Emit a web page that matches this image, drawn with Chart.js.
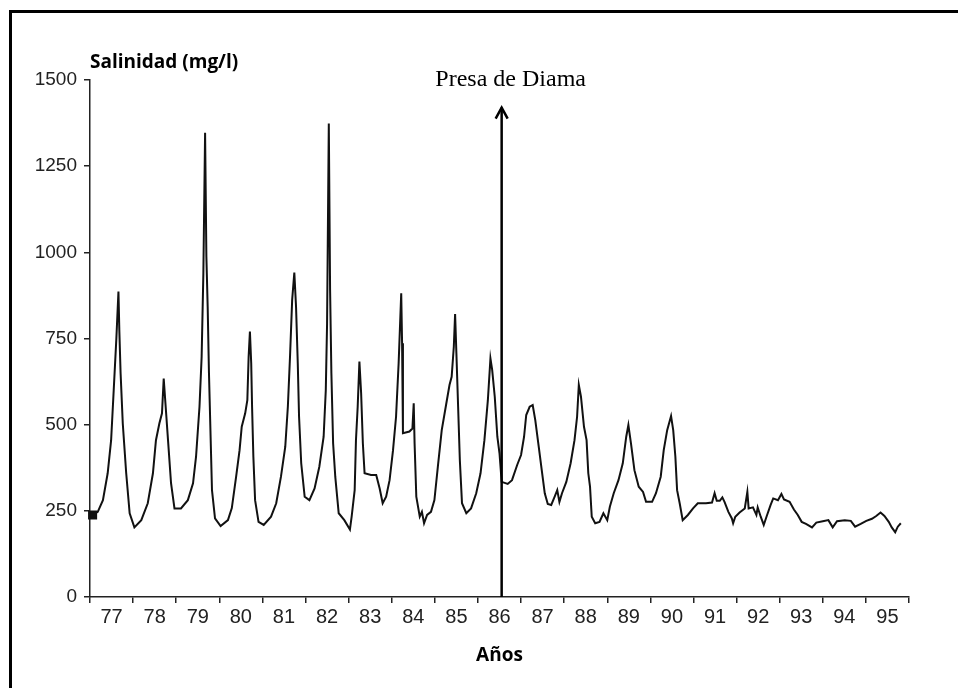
<!DOCTYPE html>
<html>
<head>
<meta charset="utf-8">
<script src="https://cdn.jsdelivr.net/npm/chart.js@4/dist/chart.umd.min.js"></script>
<style>
  html, body { margin: 0; padding: 0; background: #fff; }
  #wrap { position: relative; width: 958px; height: 688px; }
  #frame { position: absolute; left: 9px; top: 10px; right: 0; bottom: 0;
           border-left: 3px solid #000; border-top: 3px solid #000; pointer-events: none; }
</style>
</head>
<body>
<div id="wrap">
  <canvas id="salChart" width="958" height="688"></canvas>
  <div id="frame"></div>
</div>
<script>
// Salinidad en Diama (mg/l)
const years = [
  76.56, 76.68, 76.80, 76.91, 76.99, 77.05, 77.11, 77.16, 77.18, 77.21, 77.26, 77.34, 77.42, 77.53, 77.69, 77.84, 77.96,
  78.03, 78.11, 78.17, 78.21, 78.25, 78.31, 78.38, 78.46, 78.61, 78.77, 78.89, 78.96,
  79.04, 79.09, 79.13, 79.17, 79.20, 79.23, 79.26, 79.30, 79.33, 79.40, 79.53, 79.70, 79.79, 79.89, 79.97,
  80.02, 80.10, 80.15, 80.18, 80.21, 80.24, 80.26, 80.29, 80.33, 80.41, 80.53, 80.70, 80.82, 80.93,
  81.03, 81.09, 81.14, 81.19, 81.24, 81.28, 81.32, 81.35, 81.40, 81.48, 81.59, 81.71, 81.82, 81.92, 81.97,
  82.00, 82.04, 82.07, 82.10, 82.14, 82.19, 82.27, 82.40, 82.53, 82.57, 82.64, 82.67, 82.71, 82.75, 82.79, 82.83, 82.87,
  83.02, 83.14, 83.22, 83.29, 83.37, 83.45, 83.53, 83.60, 83.66, 83.72, 83.74, 83.76, 83.91, 83.98,
  84.01, 84.03, 84.07, 84.15, 84.20, 84.25, 84.32, 84.41, 84.49, 84.57, 84.66, 84.76, 84.84, 84.89, 84.94, 84.97,
  85.00, 85.04, 85.08, 85.13, 85.23, 85.34, 85.46, 85.56, 85.65, 85.73, 85.79, 85.83, 85.89, 85.95,
  86.00, 86.05, 86.19, 86.29, 86.41, 86.50, 86.57, 86.62, 86.70, 86.77, 86.83, 86.91, 86.98,
  87.05, 87.12, 87.20, 87.28, 87.34, 87.39, 87.45, 87.55, 87.65, 87.74, 87.80, 87.84, 87.89, 87.96,
  88.02, 88.06, 88.10, 88.14, 88.22, 88.32, 88.41, 88.50, 88.56, 88.65, 88.76, 88.86, 88.94, 88.99,
  89.05, 89.13, 89.23, 89.33, 89.40, 89.54, 89.63, 89.74, 89.81, 89.89, 89.98,
  90.03, 90.08, 90.12, 90.18, 90.25, 90.37, 90.49, 90.60, 90.79, 90.93, 90.99,
  91.04, 91.11, 91.17, 91.22, 91.31, 91.39, 91.42, 91.47, 91.57, 91.69, 91.75, 91.78, 91.88, 91.96, 91.99,
  92.06, 92.13, 92.20, 92.29, 92.35, 92.46, 92.54, 92.60, 92.73, 92.83, 92.92,
  93.01, 93.11, 93.25, 93.35, 93.50, 93.63, 93.73, 93.83,
  94.01, 94.15, 94.25, 94.38, 94.51, 94.64, 94.74, 94.84, 94.93,
  95.03, 95.10, 95.18, 95.24, 95.31
];
const salinity = [
  238, 247, 281, 359, 455, 600, 746, 886, 775, 649, 504, 359, 243, 202, 223, 272, 359,
  455, 504, 533, 634, 562, 455, 330, 257, 257, 281, 330, 407,
  552, 697, 939, 1347, 987, 842, 649, 455, 310, 228, 206, 223, 258, 349, 426,
  494, 533, 571, 697, 770, 678, 552, 407, 281, 218, 209, 233, 272, 349,
  436, 552, 697, 862, 941, 842, 678, 523, 388, 291, 281, 315, 378, 465, 600,
  794, 1374, 891, 649, 446, 349, 243, 223, 196, 233, 310, 455, 552, 683, 591, 446, 359,
  354, 354, 315, 272, 291, 339, 426, 523, 678, 881, 736, 475, 480, 489,
  562, 446, 291, 233, 247, 214, 238, 247, 281, 378, 484, 557, 615, 639, 726, 821,
  707, 552, 397, 272, 243, 257, 301, 359, 455, 571, 692, 659, 581, 465,
  417, 334, 328, 339, 383, 412, 465, 528, 552, 557, 513, 436, 368,
  301, 270, 267, 291, 310, 276, 301, 334, 388, 455, 523, 615, 581, 494,
  455, 359, 320, 233, 214, 218, 243, 223, 262, 301, 339, 388, 465, 499,
  446, 368, 320, 305, 276, 276, 301, 349, 426, 484, 525,
  484, 407, 310, 272, 223, 238, 257, 272, 272, 274, 301,
  279, 279, 289, 276, 247, 228, 214, 233, 245, 257, 305, 257, 260, 238, 260,
  233, 209, 235, 267, 286, 281, 299, 283, 276, 254, 238,
  218, 212, 202, 216, 220, 223, 202, 220,
  223, 221, 204, 212, 221, 227, 235, 245, 235,
  218, 202, 188, 204, 214
];
const yearLabels = [77, 78, 79, 80, 81, 82, 83, 84, 85, 86, 87, 88, 89, 90, 91, 92, 93, 94, 95];
const yTickValues = [0, 250, 500, 750, 1000, 1250, 1500];
const damYear = 86.05;     // Presa de Diama
const arrowTopValue = 1420;

const points = years.map((yr, i) => ({ x: yr, y: salinity[i] }));

const tickFont = { family: '"Liberation Sans Narrow", "Liberation Sans", Arial, sans-serif', size: 20 };

const notes = {
  id: 'notes',
  afterDatasetsDraw(chart) {
    const { ctx, chartArea, scales } = chart;
    const ax = scales.x.getPixelForValue(damYear);
    const y0 = scales.y.getPixelForValue(0);
    const yTop = scales.y.getPixelForValue(arrowTopValue);
    ctx.save();
    ctx.strokeStyle = '#000';
    ctx.lineWidth = 2.5;
    ctx.beginPath();
    ctx.moveTo(ax, y0);
    ctx.lineTo(ax, yTop);
    ctx.stroke();
    ctx.beginPath();
    ctx.moveTo(ax - 6, yTop + 11);
    ctx.lineTo(ax, yTop);
    ctx.lineTo(ax + 6, yTop + 11);
    ctx.stroke();

    ctx.fillStyle = '#000';
    ctx.font = '24px "Liberation Serif", "Times New Roman", serif';
    ctx.textAlign = 'center';
    ctx.textBaseline = 'alphabetic';
    ctx.fillText('Presa de Diama', ax + 9, chartArea.top + 6);

    ctx.font = 'bold 19px "Open Sans", sans-serif';
    ctx.textAlign = 'left';
    ctx.fillText('Salinidad (mg/l)', chartArea.left, chartArea.top - 12);
    ctx.restore();
  }
};

new Chart(document.getElementById('salChart'), {
  type: 'line',
  data: {
    datasets: [{
      data: points,
      borderColor: '#111',
      borderWidth: 2,
      tension: 0,
      fill: false,
      clip: false,
      pointStyle: 'rect',
      pointRadius: ctx => ctx.dataIndex === 0 ? 5 : 0,
      pointBackgroundColor: '#111',
      pointBorderColor: '#111'
    }]
  },
  options: {
    responsive: false,
    animation: false,
    layout: { padding: { top: 80, right: 49, left: 0, bottom: 0 } },
    plugins: { legend: { display: false }, tooltip: { enabled: false } },
    scales: {
      x: {
        type: 'linear',
        min: 76.5,
        max: 95.5,
        afterFit: s => { s.height = 91; },
        afterBuildTicks: s => {
          const t = [];
          yearLabels.forEach(y => { t.push({ value: y - 0.5 }); t.push({ value: y }); });
          t.push({ value: yearLabels[yearLabels.length - 1] + 0.5 });
          s.ticks = t;
        },
        ticks: {
          autoSkip: false,
          maxRotation: 0,
          padding: 2,
          color: '#222',
          font: tickFont,
          callback: v => Number.isInteger(v) ? String(v) : ''
        },
        grid: {
          drawOnChartArea: false,
          tickLength: 6,
          lineWidth: 1.5,
          color: ctx => (ctx.tick && !Number.isInteger(ctx.tick.value)) ? '#222' : 'rgba(0,0,0,0)'
        },
        border: { display: true, color: '#222', width: 1.5, dash: [16, 4, 3, 4] },
        title: {
          display: true,
          text: 'Años',
          color: '#000',
          font: { family: '"Open Sans", sans-serif', size: 19, weight: 'bold' },
          padding: { top: 0, bottom: 21 }
        }
      },
      y: {
        min: 0,
        max: 1500,
        afterFit: s => { s.width = 90; },
        afterBuildTicks: s => { s.ticks = yTickValues.map(v => ({ value: v })); },
        ticks: { padding: 7, color: '#222', font: { ...tickFont, size: 19 }, callback: v => String(v) },
        grid: { drawOnChartArea: false, tickLength: 6, lineWidth: 1.5, color: '#222' },
        border: { display: true, color: '#222', width: 1.5 }
      }
    }
  },
  plugins: [notes]
});
</script>
</body>
</html>
